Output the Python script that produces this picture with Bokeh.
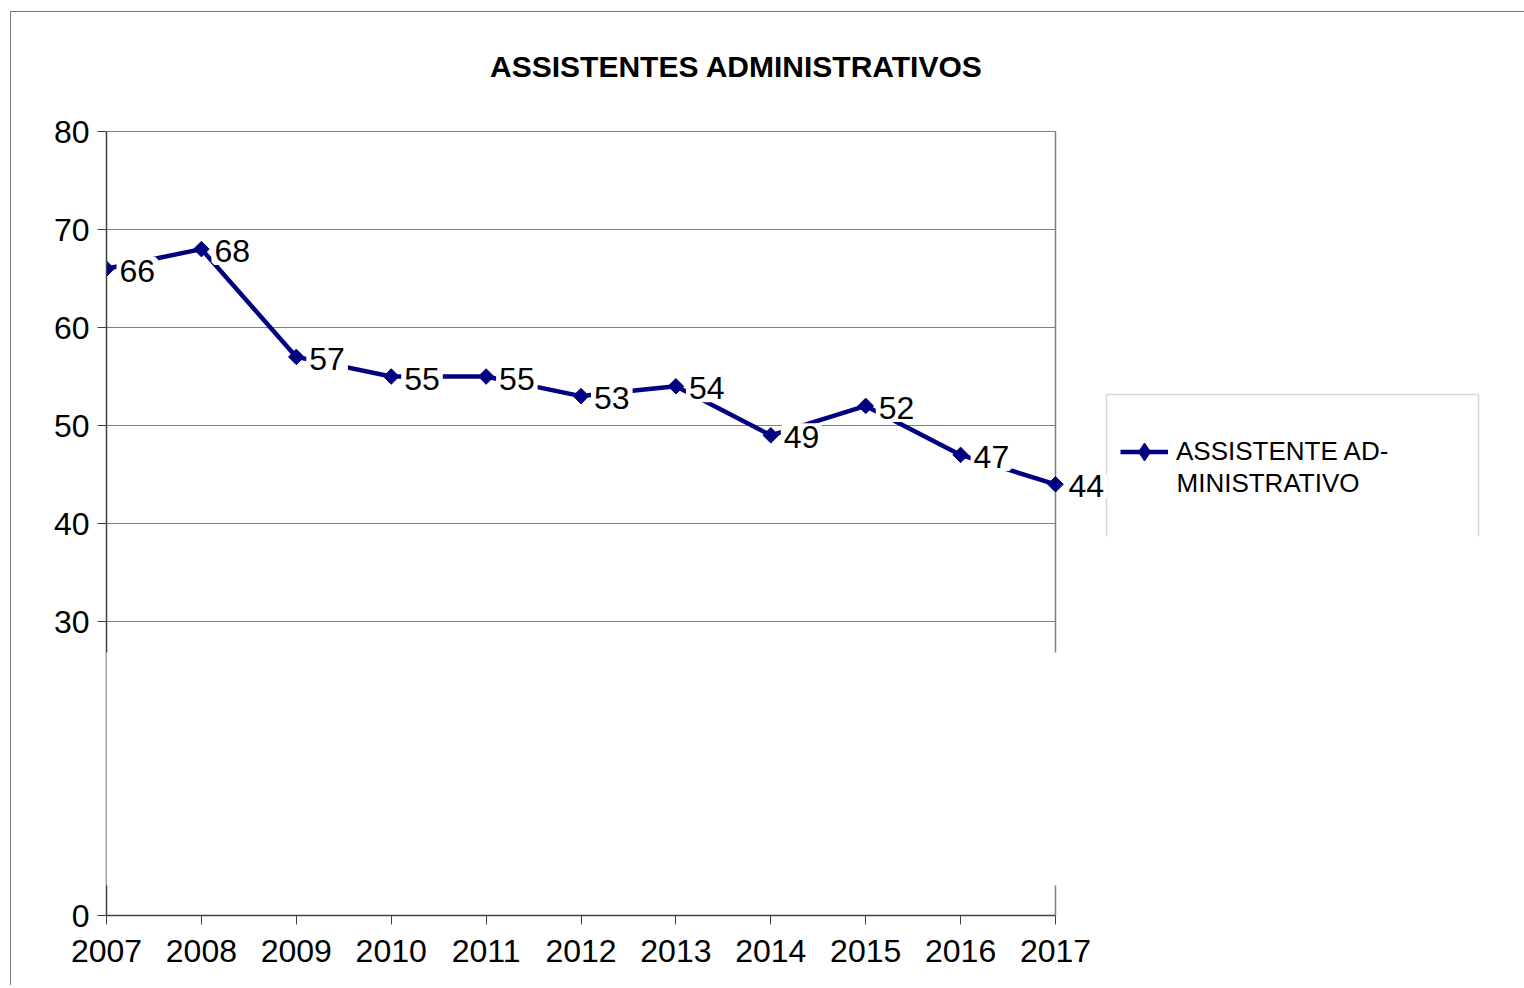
from bokeh.plotting import figure
from bokeh.models import (ColumnDataSource, Range1d, FixedTicker, LabelSet, Label,
                          BoxAnnotation, Legend, LegendItem)
from bokeh.core.properties import value
from bokeh.embed import file_html
from bokeh.resources import INLINE
import math

# ---- data ----
years = [2007, 2008, 2009, 2010, 2011, 2012, 2013, 2014, 2015, 2016, 2017]
values = [66, 68, 57, 55, 55, 53, 54, 49, 52, 47, 44]
y_ticks = [0, 30, 40, 50, 60, 70, 80]
grid_vals = [30, 40, 50, 60, 70, 80]
title_text = "ASSISTENTES ADMINISTRATIVOS"
series_line1 = "ASSISTENTE AD-"
series_line2 = "MINISTRATIVO"

FONT = "Liberation Sans"
NAVY = "#000080"
GRID = "#7f7f7f"
AXIS = "#404040"

# ---- layout (pixels) ----
FRAME_W, FRAME_H = 1418, 903
PLOT_W, PLOT_H = 949, 784          # span of 2007..2017 and 0..80
x_max = years[0] + (years[-1] - years[0]) * FRAME_W / PLOT_W
y_max = y_ticks[-1] * FRAME_H / PLOT_H

src = ColumnDataSource(dict(year=years, value=values, label=[str(v) for v in values]))

p = figure(frame_width=FRAME_W, frame_height=FRAME_H,
           min_border_left=95, min_border_right=0, min_border_top=0, min_border_bottom=70,
           x_range=Range1d(years[0], x_max), y_range=Range1d(0, y_max),
           output_backend="svg", toolbar_location=None, title=None,
           background_fill_color="white", border_fill_color="white",
           styles={"margin-left": "10px", "margin-top": "11px",
                   "border-left": "1px solid #7a7a7a", "border-top": "1px solid #7a7a7a"})

p.outline_line_color = None
p.xgrid.grid_line_color = None
p.ygrid.grid_line_color = None

# axes
p.xaxis.ticker = FixedTicker(ticks=years)
p.yaxis.ticker = FixedTicker(ticks=y_ticks)
p.xaxis.bounds = (years[0], years[-1])
p.yaxis.bounds = (y_ticks[0], y_ticks[-1])
for ax in (p.xaxis[0], p.yaxis[0]):
    ax.axis_line_color = AXIS
    ax.axis_line_width = 1.5
    ax.major_tick_line_color = AXIS
    ax.major_tick_line_width = 1
    ax.major_tick_in = 0
    ax.major_tick_out = 9
    ax.minor_tick_line_color = None
    ax.major_label_text_font = FONT
    ax.major_label_text_font_size = "32px"
    ax.major_label_text_color = "black"
p.yaxis.major_label_standoff = 8
p.xaxis.major_label_standoff = 15
p.xaxis.formatter.use_scientific = False

# horizontal grid lines and right border of the plot area
gsrc = ColumnDataSource(dict(x0=[years[0]] * len(grid_vals), x1=[years[-1]] * len(grid_vals),
                             y=grid_vals))
p.segment(x0="x0", x1="x1", y0="y", y1="y", source=gsrc, line_color=GRID, line_width=1)
p.segment(x0=[years[-1]], x1=[years[-1]], y0=[y_ticks[0]], y1=[y_ticks[-1]],
          line_color=GRID, line_width=1.5)

# data
line_r = p.line("year", "value", source=src, line_color=NAVY, line_width=4.5)
mark_r = p.scatter("year", "value", source=src, marker="square", size=11,
                   angle=math.pi / 4, fill_color=NAVY, line_color=NAVY)
# legend-only diamond glyph (hidden in the plot, shown in the legend)
leg_mark = p.scatter("year", "value", source=src, marker="diamond", size=19,
                     fill_color=NAVY, line_color=NAVY, visible=False)

labels = LabelSet(x="year", y="value", text="label", source=src,
                  x_offset=13, y_offset=-2, text_align="left", text_baseline="middle",
                  text_font=value(FONT), text_font_size=value("32px"), text_color="black",
                  background_fill_color="white", background_fill_alpha=1.0,
                  border_line_color="white", border_line_width=6)
p.add_layout(labels)

# title
title = Label(x=630, y=849, x_units="screen", y_units="screen", text=title_text,
              text_align="center", text_baseline="middle", text_font=FONT,
              text_font_size="30px", text_font_style="bold", text_color="black")
p.add_layout(title)

# legend frame
legbox = BoxAnnotation(left=1000, right=1372, top=521, bottom=300,
                       left_units="screen", right_units="screen",
                       top_units="screen", bottom_units="screen",
                       fill_color=None, line_color="#7f7f7f", line_width=1.5,
                       level="underlay")
p.add_layout(legbox)

legend = Legend(items=[LegendItem(label=series_line1, renderers=[line_r, leg_mark])],
                location=(1014, 441), orientation="vertical",
                glyph_width=48, glyph_height=45, label_standoff=8,
                padding=0, margin=0, spacing=0,
                border_line_color=None, background_fill_color=None,
                label_text_font=FONT, label_text_font_size="26px",
                label_text_color="black", label_text_line_height=1.15)
p.add_layout(legend)

legend_line2 = Label(x=1070, y=433, x_units="screen", y_units="screen", text=series_line2,
                     text_align="left", text_baseline="middle", text_font=FONT,
                     text_font_size="26px", text_color="black")
p.add_layout(legend_line2)

# white cover over the bottom of the legend frame
cover_leg = BoxAnnotation(left=990, right=1400, top=379, bottom=250,
                          left_units="screen", right_units="screen",
                          top_units="screen", bottom_units="screen",
                          fill_color="white", fill_alpha=1.0, line_color=None,
                          level="overlay")
p.add_layout(cover_leg)

# white band across the lower part of the chart
band = BoxAnnotation(left=-10, right=2000, top=263, bottom=30,
                     left_units="screen", right_units="screen",
                     top_units="screen", bottom_units="screen",
                     fill_color="white", fill_alpha=1.0, line_color=None,
                     level="overlay")
p.add_layout(band)

open("out.html", "w").write(file_html(p, INLINE))
